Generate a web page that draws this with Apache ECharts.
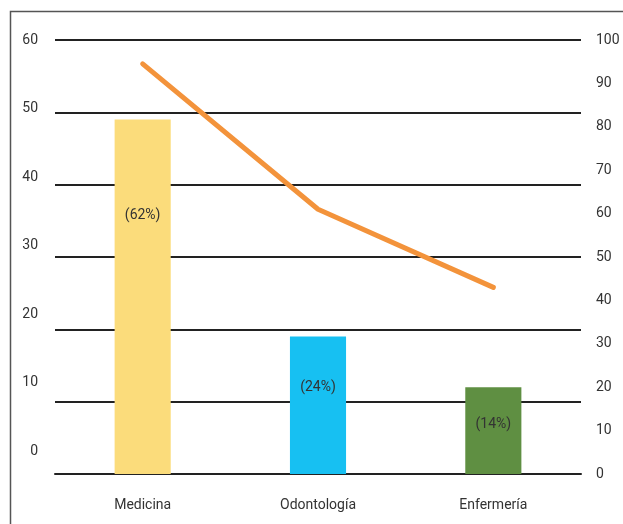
<!DOCTYPE html>
<html>
<head>
<meta charset="utf-8">
<script src="https://cdn.jsdelivr.net/npm/echarts@6.0.0/dist/echarts.min.js"></script>
<style>
  html, body { margin: 0; padding: 0; background: #fff; }
  #chart { width: 623px; height: 524px; }
</style>
</head>
<body>
<div id="chart"></div>
<script>
// --- Data ---
var categories = ['Medicina', 'Odontología', 'Enfermería'];
var barValues = [49, 19, 12];
var pctLabels = ['(62%)', '(24%)', '(14%)'];
var lineValues = [94.5, 61, 43];

(function () {
  'use strict';

  var barColors = ['#FBDC7B', '#17C0F2', '#5F8F42'];
  // label height inside each bar, as share of bar height from the top
  var labelTops = ['27%', '37%', '43%'];
  var font = 'Roboto';
  var textColor = '#333';

  var barData = barValues.map(function (v, i) {
    return {
      value: v,
      itemStyle: { color: barColors[i] },
      label: {
        show: true,
        position: ['50%', labelTops[i]],
        align: 'center',
        verticalAlign: 'middle',
        formatter: pctLabels[i],
        color: textColor,
        fontSize: 14,
        fontFamily: font
      }
    };
  });

  var chart = echarts.init(document.getElementById('chart'), null, { renderer: 'canvas' });

  var option = {
    animation: false,
    grid: [
      { left: 55, right: 42, top: 40, bottom: 50 },
      // second grid only carries the left labels (they sit off the gridlines in the source)
      { left: 55, right: 42, top: 40, bottom: 73 }
    ],
    xAxis: [{
      type: 'category',
      data: categories,
      gridIndex: 0,
      axisLine: { show: true, lineStyle: { color: '#222', width: 2 } },
      axisTick: { show: false },
      axisLabel: { margin: 24, color: textColor, fontSize: 14, fontFamily: font }
    }, {
      type: 'category',
      data: categories,
      gridIndex: 1,
      show: false
    }],
    yAxis: [{
      type: 'value',
      gridIndex: 0,
      min: 0, max: 60, interval: 10,
      axisLabel: { show: false },
      axisLine: { show: false },
      axisTick: { show: false },
      splitLine: { show: true, lineStyle: { color: '#222', width: 2 } }
    }, {
      type: 'value',
      gridIndex: 0,
      position: 'right',
      min: 0, max: 100, interval: 10,
      axisLine: { show: false },
      axisTick: { show: false },
      splitLine: { show: false },
      axisLabel: { margin: 15, color: textColor, fontSize: 14, fontFamily: font }
    }, {
      type: 'value',
      gridIndex: 1,
      min: 0, max: 60, interval: 10,
      axisLine: { show: false },
      axisTick: { show: false },
      splitLine: { show: false },
      axisLabel: { margin: 17, color: textColor, fontSize: 14, fontFamily: font }
    }],
    graphic: [{
      type: 'rect',
      shape: { x: 10.5, y: 11.5, width: 620, height: 520 },
      style: { fill: 'none', stroke: '#555', lineWidth: 1.5 },
      silent: true
    }],
    series: [{
      type: 'bar',
      xAxisIndex: 0,
      yAxisIndex: 0,
      data: barData,
      barWidth: '32%'
    }, {
      type: 'line',
      xAxisIndex: 0,
      yAxisIndex: 1,
      data: lineValues,
      symbol: 'none',
      lineStyle: { color: '#F3933B', width: 5, cap: 'round' },
      z: 5
    }]
  };

  chart.setOption(option);
})();
</script>
</body>
</html>
